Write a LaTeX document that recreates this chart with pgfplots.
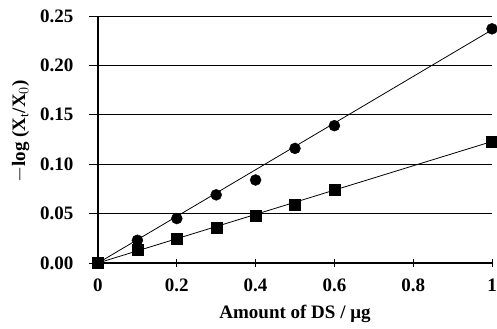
\documentclass[border=0pt]{standalone}
\usepackage{pgfplots}
\pgfplotsset{compat=1.18}
\usepackage{fontspec}
\setmainfont{Liberation Serif}
\begin{document}
\begin{tikzpicture}
\useasboundingbox (-98bp,-66bp) rectangle (399bp,263bp);
\begin{axis}[
  at={(0,0)}, anchor=south west,
  scale only axis, width=394bp, height=247bp,
  xmin=0, xmax=1, ymin=0, ymax=0.25,
  axis x line=bottom, axis y line=left,
  axis line style={-, line width=1.1pt},
  xtick={0,0.2,0.4,0.6,0.8,1},
  xticklabels={0,0.2,0.4,0.6,0.8,1},
  ytick={0,0.05,0.10,0.15,0.20,0.25},
  yticklabels={0.00,0.05,0.10,0.15,0.20,0.25},
  x tick style={line width=1pt, black},
  y tick style={line width=1pt, black},
  xtick align=center,
  ytick align=outside,
  major tick length=9bp,
  ymajorgrids, grid style={black, line width=0.7pt},
  tick label style={font=\fontsize{19bp}{22bp}\selectfont\bfseries},
  xticklabel style={yshift=-8bp},
  yticklabel style={xshift=-12bp},
  xlabel={Amount of DS / μg},
  ylabel={$-$log (X$_\mathrm{t}$/X$_0$)},
  label style={font=\fontsize{19bp}{22bp}\selectfont\bfseries},
  xlabel style={yshift=-6bp},
  ylabel style={yshift=4bp, xshift=8bp},
  clip=false,
  /pgf/number format/assume math mode=true,
]
\addplot[black, line width=0.8pt] coordinates {(0,0) (1,0.236)};
\addplot[black, line width=0.8pt] coordinates {(0,0) (1,0.123)};
\addplot[only marks, mark=*, mark size=5.5bp, mark options={fill=black}] coordinates {
  (0,0) (0.1,0.023) (0.2,0.045) (0.3,0.069) (0.4,0.084) (0.5,0.116) (0.6,0.139) (1.0,0.237)};
\addplot[only marks, mark=square*, mark size=5.5bp, mark options={fill=black}] coordinates {
  (0,0) (0.1,0.013) (0.2,0.025) (0.3,0.036) (0.4,0.048) (0.5,0.059) (0.6,0.074) (1.0,0.123)};
\end{axis}
\end{tikzpicture}
\end{document}
